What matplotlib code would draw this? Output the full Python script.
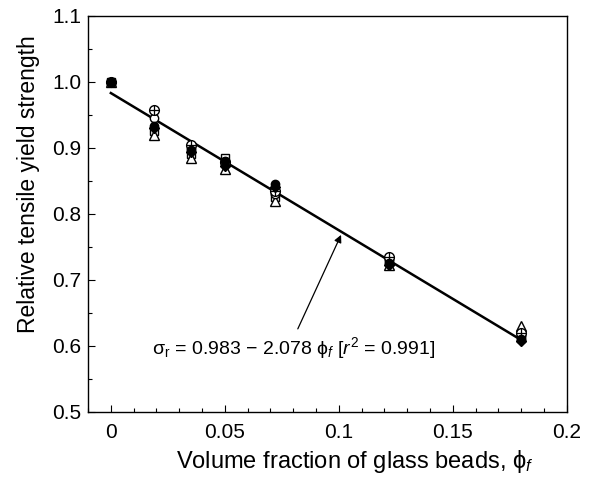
import matplotlib
matplotlib.use("Agg")
import matplotlib.pyplot as plt
import numpy as np
from matplotlib.ticker import MultipleLocator

plt.rcParams['font.family'] = ['Liberation Sans', 'DejaVu Sans']
plt.rcParams['mathtext.fontset'] = 'custom'
plt.rcParams['mathtext.rm'] = 'Liberation Sans'
plt.rcParams['mathtext.it'] = 'Liberation Sans:italic'
plt.rcParams['mathtext.sf'] = 'Liberation Sans'

phi = [0.0, 0.019, 0.035, 0.050, 0.072, 0.122, 0.180]
filled_circle = [1.0, 0.933, 0.897, 0.880, 0.845, 0.725, 0.610]
open_circle = [1.0, 0.945, 0.900, 0.875, 0.830, 0.730, 0.615]
crossed_circle = [1.0, 0.957, 0.905, 0.878, 0.835, 0.735, 0.620]
open_square = [1.0, 0.925, 0.890, 0.885, 0.825, 0.728, 0.612]
open_triangle = [1.0, 0.920, 0.885, 0.868, 0.820, 0.722, 0.630]
filled_diamond = [1.0, 0.930, 0.893, 0.872, 0.840, 0.723, 0.607]

intercept = 0.983
slope = -2.078
fit_x = [0.0, 0.18]

fig = plt.figure(figsize=(5.91, 4.79), dpi=100)
ax = fig.add_axes([0.149, 0.14, 0.81, 0.827])

ms = 6
ax.plot(phi, open_square, ls='none', marker='s', ms=ms - 0.5, mfc='white', mec='black', mew=1.0, zorder=3)
ax.plot(phi, open_triangle, ls='none', marker='^', ms=ms + 0.5, mfc='white', mec='black', mew=1.0, zorder=3)
ax.plot(phi, open_circle, ls='none', marker='o', ms=ms, mfc='white', mec='black', mew=1.0, zorder=4)
ax.plot(phi, crossed_circle, ls='none', marker='o', ms=ms + 1, mfc='white', mec='black', mew=1.0, zorder=4)
ax.plot(phi, crossed_circle, ls='none', marker='+', ms=ms + 1, mec='black', mew=0.9, zorder=5)
ax.plot(phi, filled_diamond, ls='none', marker='D', ms=ms - 1, mfc='black', mec='black', zorder=5)
ax.plot(phi, filled_circle, ls='none', marker='o', ms=ms, mfc='black', mec='black', zorder=5)

fx = np.array(fit_x)
ax.plot(fx, intercept + slope * fx, color='black', lw=1.8, zorder=2)

ax.annotate('', xy=(0.1015, 0.772), xytext=(0.0815, 0.622),
            arrowprops=dict(arrowstyle='-|>', color='black', lw=0.9, mutation_scale=11))
ax.text(0.018, 0.597, 'σ$_\\mathrm{r}$ = 0.983 − 2.078 ϕ$_{f}$ [$r^2$ = 0.991]',
        fontsize=14, va='center', ha='left')

ax.set_xlim(-0.01, 0.2)
ax.set_ylim(0.5, 1.1)
ax.set_xticks([0, 0.05, 0.1, 0.15, 0.2])
ax.set_xticklabels(['0', '0.05', '0.1', '0.15', '0.2'])
ax.set_yticks([0.5, 0.6, 0.7, 0.8, 0.9, 1.0, 1.1])
ax.set_yticklabels(['0.5', '0.6', '0.7', '0.8', '0.9', '1.0', '1.1'])
ax.xaxis.set_minor_locator(MultipleLocator(0.01))
ax.yaxis.set_minor_locator(MultipleLocator(0.05))
ax.tick_params(which='both', direction='in', top=False, right=False, labelsize=15)
ax.tick_params(axis='x', which='major', pad=8)
ax.tick_params(axis='y', which='major', pad=5)
ax.tick_params(which='major', length=5, width=0.8)
ax.tick_params(which='minor', length=3, width=0.8)
for s in ax.spines.values():
    s.set_linewidth(1.0)

ax.set_xlabel('Volume fraction of glass beads, ϕ$_{f}$', fontsize=17)
ax.set_ylabel('Relative tensile yield strength', fontsize=16.5)
ax.xaxis.set_label_coords(0.557, -0.092)
ax.yaxis.set_label_coords(-0.100, 0.575)

fig.savefig('out.png', dpi=100)
